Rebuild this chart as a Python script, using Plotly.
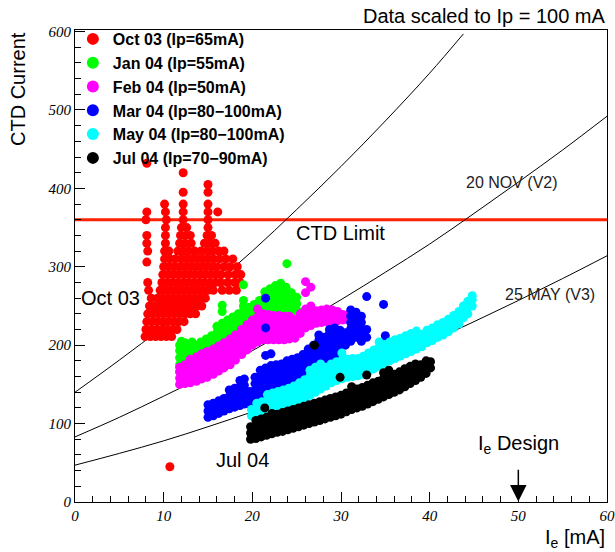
import plotly.graph_objects as go

# ---------------- data ----------------
series_names = ["Oct 03 (Ip=65mA)", "Jan 04 (Ip=55mA)", "Feb 04 (Ip=50mA)",
                "Mar 04 (Ip=80\u2212100mA)", "May 04 (Ip=80\u2212100mA)", "Jul 04 (Ip=70\u221290mA)"]
series_colors = ["#ff0000", "#00ff00", "#ff00ff", "#0000ff", "#00ffff", "#000000"]

# Oct 03: rows of (CTD current, [Ie values])
oct03_rows = [
    (211, [7.9, 8.5, 9.1, 9.7, 10.3, 10.9]),
    (220, [8.0, 8.6, 9.2, 9.8, 10.4, 11.0, 11.5]),
    (230, [8.1, 8.7, 9.3, 9.9, 10.5, 11.1, 11.7, 12.3]),
    (240, [8.2, 8.8, 9.4, 10.0, 10.6, 11.2, 11.8, 12.4, 13.0, 13.6]),
    (250, [8.4, 9.0, 9.6, 10.2, 10.8, 11.4, 12.0, 12.6, 13.2, 13.8, 14.3]),
    (260, [8.6, 9.3, 9.9, 10.5, 11.1, 11.7, 12.3, 12.9, 13.5, 14.1, 14.7]),
    (270, [8.3, 9.6, 10.2, 10.8, 11.4, 12.0, 12.6, 13.2, 13.8, 14.4, 15.0, 15.6, 16.6, 17.4, 18.2]),
    (280, [8.2, 9.8, 10.4, 11.0, 11.6, 12.2, 12.8, 13.4, 14.0, 14.6, 15.2, 15.8, 16.4, 17.2, 18.0, 18.6]),
    (290, [9.9, 10.5, 11.1, 11.7, 12.3, 12.9, 13.5, 14.1, 14.7, 15.3, 15.9, 16.5, 17.3, 18.1, 18.7]),
    (300, [10.0, 10.6, 11.2, 11.8, 12.4, 13.0, 13.6, 14.2, 14.8, 15.4, 16.0, 16.8, 17.5, 18.3]),
    (306, [8.1]),
    (310, [10.1, 10.7, 11.3, 12.0, 12.6, 13.2, 13.8, 14.4, 15.0, 15.6, 16.3, 17.0, 17.8]),
    (320, [8.2, 10.1, 10.6, 11.6, 12.2, 12.8, 13.5, 14.2, 14.9, 15.5, 16.2, 16.8]),
    (330, [8.1, 10.2, 11.8, 12.4, 13.1, 14.6, 15.2, 15.8]),
    (340, [8.1, 10.2, 11.9, 12.5, 13.0, 14.9, 15.4]),
    (350, [10.2, 12.0, 12.6, 15.0]),
    (360, [8.0, 10.3, 12.2, 15.0]),
    (370, [8.1, 10.2, 12.2, 15.0, 16.1]),
    (380, [10.1, 12.2, 15.0]),
    (395, [12.2, 15.0]),
    (405, [15.0]),
    (420, [12.2]),
    (432, [8.1]),
    (45, [10.7]),
]

# other periods: columns of (Ie, [CTD current values])
jan04_cols = [
    (11.8, [166, 175, 184, 193, 200]), (12.0, [205]),
    (12.4, [168, 177, 186, 195, 203]),
    (13.0, [170, 179, 188, 197]),
    (13.2, [204]),
    (13.6, [173, 182, 191, 200]),
    (14.2, [177, 186, 195, 204]),
    (14.8, [181, 190, 199, 208]),
    (15.4, [185, 194, 203, 212]),
    (16.0, [189, 198, 207, 216, 224]),
    (16.6, [193, 202, 211, 220, 228, 243, 251]),
    (17.2, [197, 206, 215, 224, 232]),
    (17.8, [201, 210, 219, 228, 236]),
    (18.4, [205, 214, 223, 232, 240]),
    (19.0, [209, 218, 227, 236, 244, 250, 257, 277]),
    (19.6, [213, 222, 231, 240, 248]),
    (20.2, [217, 226, 235, 244, 252]),
    (20.8, [221, 230, 239, 248, 257]),
    (21.4, [225, 234, 243, 252, 261, 268]),
    (22.0, [229, 238, 247, 256, 265, 272]),
    (22.6, [232, 241, 250, 259, 268, 276]),
    (23.2, [236, 245, 254, 263, 272, 279]),
    (23.8, [238, 247, 256, 265, 274]),
    (23.9, [304]),
    (24.4, [241, 250, 259, 267]),
    (25.0, [245, 253, 261]),
]

feb04_cols = [
    (11.8, [150, 158, 166, 172]),
    (12.4, [151, 159, 167, 175]),
    (13.0, [152, 160, 168, 176, 182]),
    (13.7, [154, 162, 170, 178, 185]),
    (14.3, [157, 165, 173, 181, 189]),
    (14.9, [159, 167, 175, 183, 192]),
    (15.6, [163, 171, 179, 187, 195]),
    (16.2, [167, 175, 183, 191, 199]),
    (16.8, [171, 179, 187, 195, 203]),
    (17.5, [175, 183, 191, 199, 208]),
    (18.1, [181, 189, 197, 205, 213]),
    (18.8, [188, 196, 204, 212, 220]),
    (19.4, [194, 202, 210, 218, 226]),
    (20.0, [200, 208, 216, 224, 232]),
    (20.6, [204, 212, 220, 228, 236, 246]),
    (21.2, [207, 215, 223, 231, 240]),
    (21.8, [207, 215, 223, 231, 239]),
    (22.4, [207, 215, 223, 231, 238]),
    (23.0, [207, 215, 223, 231, 238]),
    (23.6, [207, 215, 223, 231, 237]),
    (24.2, [208, 216, 224, 232, 237]),
    (24.8, [209, 217, 225, 233]),
    (25.4, [215, 223, 231, 240]),
    (26.0, [222, 230, 238, 246, 267, 281]),
    (26.6, [225, 233, 241, 250, 274]),
    (27.2, [228, 236, 244]),
    (27.8, [229, 237, 245]),
    (28.4, [230, 238, 246]),
    (29.0, [230, 238, 245]),
    (29.6, [231, 238, 243]),
    (30.2, [232, 239]),
    (30.8, [233, 239]),
]

mar04_cols = [
    (15.0, [108, 116, 124]),
    (15.6, [110, 118, 126]),
    (16.2, [113, 121, 129]),
    (16.8, [116, 124, 132]),
    (17.4, [119, 127, 135, 143]),
    (18.0, [121, 129, 137, 145]),
    (18.6, [123, 131, 139, 147, 155]),
    (19.1, [125, 133, 141, 149, 157]),
    (19.7, [125, 133, 141]),
    (20.3, [127, 135, 143, 151, 159]),
    (20.9, [128, 136, 144, 152, 160, 168]),
    (21.5, [133, 141, 149, 157, 165, 171, 187, 222, 260]),
    (22.1, [134, 142, 150, 158, 166, 174, 189]),
    (22.7, [134, 142, 150, 158, 166, 175]),
    (23.3, [135, 143, 151, 159, 167, 176]),
    (23.9, [136, 144, 152, 162, 170, 180]),
    (24.5, [138, 146, 154, 164, 172, 182]),
    (25.1, [142, 150, 158, 166, 174, 184]),
    (25.7, [148, 156, 164, 172, 180, 188]),
    (26.3, [155, 163, 172, 180, 188, 195]),
    (26.9, [160, 168, 176, 184, 192, 200]),
    (27.5, [165, 173, 181, 189, 197, 206, 213]),
    (28.1, [170, 178, 186, 194, 202, 210]),
    (28.7, [175, 183, 191, 199, 207, 215, 220]),
    (29.3, [185, 193, 201, 209, 217, 222]),
    (29.9, [195, 203, 211, 219]),
    (30.5, [200, 208, 216]),
    (31.1, [205, 213, 221, 229, 237, 245]),
    (31.7, [210, 218, 226, 234, 242]),
    (32.3, [205, 213, 221, 229, 237]),
    (32.9, [210, 220, 262]),
    (34.8, [252]),
    (35.0, [205, 212]),
]

may04_cols = [
    (19.9, [110, 118]),
    (20.5, [110, 118, 126]),
    (21.1, [112, 120, 128]),
    (21.7, [114, 122, 130, 137]),
    (22.3, [116, 124, 132, 139]),
    (22.9, [118, 126, 134, 141]),
    (23.5, [120, 128, 136, 143]),
    (24.1, [122, 130, 138, 145]),
    (24.7, [124, 132, 140, 148]),
    (25.3, [128, 136, 144, 152]),
    (25.9, [132, 140, 148, 156]),
    (26.5, [136, 144, 152, 160, 168]),
    (27.1, [140, 148, 156, 164, 172]),
    (27.7, [144, 152, 160, 168, 176]),
    (28.3, [148, 156, 164, 172]),
    (28.9, [152, 160, 168, 176]),
    (29.5, [155, 163, 171, 179]),
    (30.1, [157, 165, 173, 181, 190]),
    (30.7, [159, 167, 175, 182]),
    (31.3, [160, 168, 176, 183]),
    (31.9, [161, 169, 177, 183]),
    (32.5, [163, 171, 179, 186]),
    (33.1, [166, 174, 182, 190]),
    (33.7, [170, 178, 186, 194]),
    (34.3, [173, 181, 189, 197, 204]),
    (34.9, [177, 185, 193, 201]),
    (35.5, [180, 188, 196, 204]),
    (36.1, [183, 191, 199, 207]),
    (36.7, [186, 194, 202, 209]),
    (37.3, [189, 197, 205, 212]),
    (37.9, [192, 200, 208, 215]),
    (38.5, [195, 203, 211, 218]),
    (39.1, [198, 206, 214]),
    (39.7, [203, 211, 219]),
    (40.3, [206, 214, 222]),
    (40.9, [210, 218, 226]),
    (41.5, [213, 221, 229]),
    (42.1, [217, 225, 233]),
    (42.7, [222, 230, 238]),
    (43.3, [227, 235, 243]),
    (43.8, [235, 243, 250]),
    (44.3, [240, 248, 256]),
    (44.8, [250, 258, 263]),
]

jul04_cols = [
    (19.8, [80, 88, 96]),
    (20.4, [81, 89, 97, 104]),
    (21.0, [83, 91, 99, 106]),
    (21.4, [120]),
    (21.6, [85, 93, 101, 108]),
    (22.2, [87, 95, 103, 110, 113]),
    (22.8, [89, 97, 105, 112]),
    (23.4, [90, 98, 106, 114]),
    (24.0, [92, 100, 108, 116]),
    (24.6, [94, 102, 110, 118]),
    (25.2, [96, 104, 112, 120]),
    (25.8, [98, 106, 114, 122]),
    (26.4, [100, 108, 116, 124]),
    (27.0, [102, 110, 118, 126, 200]),
    (27.6, [104, 112, 120, 128]),
    (28.2, [106, 114, 122, 130]),
    (28.8, [108, 116, 124, 132]),
    (29.4, [110, 118, 126, 134]),
    (29.9, [159]),
    (30.0, [112, 120, 128, 136]),
    (30.6, [115, 123, 131, 139]),
    (31.2, [118, 126, 134, 142, 147]),
    (31.8, [120, 128, 136, 144]),
    (32.4, [122, 130, 138, 146]),
    (32.9, [162]),
    (33.0, [125, 133, 141, 149]),
    (33.6, [128, 136, 144, 152]),
    (34.2, [131, 139, 147, 154]),
    (34.8, [134, 142, 150, 158, 165]),
    (35.4, [137, 145, 153, 161, 168]),
    (36.0, [140, 148, 156, 163]),
    (36.6, [143, 151, 159, 166]),
    (37.2, [147, 155, 163, 170]),
    (37.8, [151, 159, 167, 173]),
    (38.4, [155, 163, 171, 176]),
    (39.0, [159, 167, 175]),
    (39.6, [164, 172, 180]),
    (40.1, [171, 179]),
]

# model curves
curve_top_x = [0, 5, 10, 15, 20, 25, 30, 35, 40, 43.8]
curve_top_y = [140, 181, 224, 271, 320, 373, 428, 486, 547, 597]
curve_v2_x = [0, 5, 10, 15, 20, 25, 30, 35, 40, 45, 50, 55, 60]
curve_v2_y = [83, 108, 135, 163, 193, 225, 258, 293, 329, 368, 408, 449, 492]
curve_v3_x = [0, 5, 10, 15, 20, 25, 30, 35, 40, 45, 50, 55, 60]
curve_v3_y = [47, 62, 78, 96, 115, 135, 157, 180, 204, 230, 257, 285, 314]

ctd_limit = 360
ie_design = 50


def from_rows(rows):
    xs, ys = [], []
    for y, xl in rows:
        for x in xl:
            xs.append(x)
            ys.append(y)
    return xs, ys


def from_cols(cols):
    xs, ys = [], []
    for x, yl in cols:
        for y in yl:
            xs.append(x)
            ys.append(y)
    return xs, ys


series_xy = [from_rows(oct03_rows), from_cols(jan04_cols), from_cols(feb04_cols),
             from_cols(mar04_cols), from_cols(may04_cols), from_cols(jul04_cols)]

fig = go.Figure()

# CTD limit line
fig.add_trace(go.Scatter(x=[0, 60], y=[ctd_limit, ctd_limit], mode="lines",
                         line=dict(color="#ff2200", width=3), showlegend=False, hoverinfo="skip"))
for cx, cy in [(curve_top_x, curve_top_y), (curve_v2_x, curve_v2_y), (curve_v3_x, curve_v3_y)]:
    fig.add_trace(go.Scatter(x=cx, y=cy, mode="lines", line=dict(color="black", width=1),
                             line_shape="spline", showlegend=False, hoverinfo="skip"))

for i, (name, col, (xs, ys)) in enumerate(zip(series_names, series_colors, series_xy)):
    fig.add_trace(go.Scatter(x=xs, y=ys, mode="markers", name=name, legendgroup=str(i),
                             marker=dict(color=col, size=9, line=dict(width=0))))

sans = "Liberation Sans"
ann = []
ann.append(dict(text="Data scaled to Ip = 100 mA", xref="paper", yref="paper", x=1.0, y=1.0,
                xanchor="right", yanchor="bottom", yshift=1, showarrow=False,
                font=dict(family=sans, size=20, color="black")))
ann.append(dict(text="CTD Current", xref="paper", yref="paper", x=0, y=1.0, xshift=-57,
                xanchor="center", yanchor="top", textangle=-90, showarrow=False,
                font=dict(family=sans, size=20, color="black")))
ann.append(dict(text="I<sub>e</sub> [mA]", xref="paper", yref="paper", x=1.0, y=0, yshift=-22,
                xanchor="right", yanchor="top", showarrow=False,
                font=dict(family=sans, size=20, color="black")))
ann.append(dict(text="CTD Limit", x=29.9, y=343, showarrow=False,
                font=dict(family=sans, size=20, color="black")))
ann.append(dict(text="Oct 03", x=0.4, y=260, xanchor="left", showarrow=False,
                font=dict(family=sans, size=20, color="black")))
ann.append(dict(text="Jul 04", x=18.9, y=53, showarrow=False,
                font=dict(family=sans, size=20, color="black")))
ann.append(dict(text="20 NOV (V2)", x=49.3, y=407, showarrow=False,
                font=dict(family=sans, size=16, color="#222222")))
ann.append(dict(text="25 MAY (V3)", x=53.6, y=265, showarrow=False,
                font=dict(family=sans, size=16, color="#222222")))
ann.append(dict(text="I<sub>e</sub> Design", x=ie_design, y=73, showarrow=False,
                font=dict(family=sans, size=20, color="black")))
ann.append(dict(text="", x=ie_design, y=0.5, ax=ie_design, ay=43, axref="x", ayref="y",
                showarrow=True, arrowhead=2, arrowsize=2.2, arrowwidth=1.5, arrowcolor="black"))

tickfont = dict(family="Liberation Serif", size=15, color="black", style="italic")

fig.update_layout(
    width=615, height=552,
    margin=dict(l=75, r=8, t=30, b=50, autoexpand=False),
    paper_bgcolor="white", plot_bgcolor="white",
    annotations=ann,
    legend=dict(x=-0.004, y=1.017, xanchor="left", yanchor="top", bgcolor="rgba(0,0,0,0)",
                font=dict(family=sans, size=16, color="black", weight="bold"),
                tracegroupgap=0, itemsizing="constant"),
    xaxis=dict(range=[0, 60], dtick=10, tick0=0, ticks="inside", ticklen=10, tickwidth=1,
               tickcolor="black", showline=True, linecolor="black", linewidth=1, mirror=True,
               showgrid=False, zeroline=False, tickfont=tickfont, automargin=False,
               minor=dict(dtick=2, ticks="inside", ticklen=6, tickcolor="black")),
    yaxis=dict(range=[0, 602], dtick=100, tick0=0, ticks="inside", ticklen=10, tickwidth=1,
               tickcolor="black", showline=True, linecolor="black", linewidth=1, mirror=True,
               showgrid=False, zeroline=False, tickfont=tickfont, automargin=False,
               minor=dict(dtick=20, ticks="inside", ticklen=6, tickcolor="black")),
)

fig.write_html("out.html")
